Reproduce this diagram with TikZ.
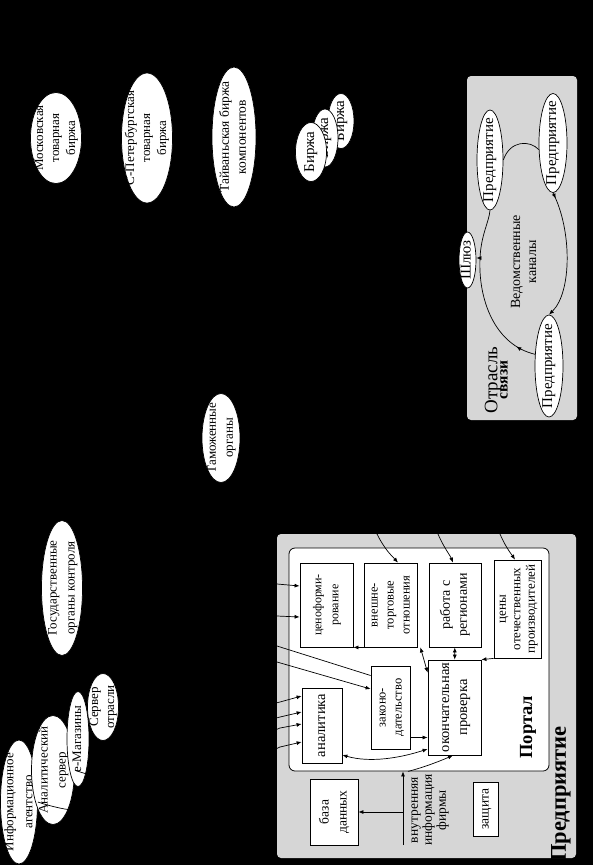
\documentclass[tikz,border=0pt]{standalone}
\usepackage{fontspec}
\setmainfont{Liberation Serif}
\usetikzlibrary{shapes.geometric,arrows.meta,calc,decorations.markings}
\newcommand{\rtx}[3]{\rotatebox{90}{\fontsize{#1}{#2}\selectfont\begin{tabular}{@{}c@{}}#3\end{tabular}}}
\definecolor{bgc}{RGB}{0,0,0}
\definecolor{panelgray}{RGB}{214,214,214}
\tikzset{
  ell/.style={ellipse, draw=black, fill=white, line width=0.7pt, inner sep=0pt},
  box/.style={rectangle, draw=black, fill=white, line width=0.8pt, inner sep=0pt},
  txt/.style={inner sep=0pt, text=black},
  panel/.style={fill=panelgray, rounded corners=4pt, inner sep=0pt},
  tip/.tip={Latex[length=5pt,width=4pt]},
  arr/.style={-tip, line width=0.7pt},
  darr/.style={tip-tip, line width=0.7pt},
  ln/.style={line width=0.7pt},
  ext/.style={-tip, line width=0.7pt, draw=bgc},
  extl/.style={line width=0.7pt, draw=bgc},
  cyc/.style={line width=0.7pt, postaction={decorate},
    decoration={markings, mark=at position #1 with {\arrow{tip}}}},
}
\begin{document}
\begin{tikzpicture}[x=1pt,y=-1pt]
\useasboundingbox (0,0) rectangle (593,865);
\fill[bgc] (0,0) rectangle (593,865);

% ---------- exchanges (top) ----------
\node[ell, minimum width=51, minimum height=91] (mosk) at (56,138) {};
\node[txt] (moskT) at (mosk) {\rtx{13}{16}{Московская\\товарная\\биржа}};
\node[ell, minimum width=51, minimum height=130] (spb) at (147,138) {};
\node[txt] (spbT) at (spb) {\rtx{13}{16}{С-Петербургская\\товарная\\биржа}};
\node[ell, minimum width=44, minimum height=140] (taiw) at (234,137) {};
\node[txt] (taiwT) at (taiw) {\rtx{13.5}{17}{Тайваньская биржа\\компонентов}};
\node[ell, minimum width=26, minimum height=55] (b3) at (341,121) {};
\node[txt] (b3T) at (b3) {\rtx{15}{16}{Биржа}};
\node[ell, minimum width=26, minimum height=58] (b2) at (325,138) {};
\node[txt] (b2T) at (b2) {\rtx{15}{16}{Биржа}};
\node[ell, minimum width=31, minimum height=59] (b1) at (311,152) {};
\node[txt] (b1T) at (b1) {\rtx{15}{16}{Биржа}};

% ---------- customs, state ----------
\node[ell, minimum width=38, minimum height=89] (tam) at (221,438) {};
\node[txt] (tamT) at (tam) {\rtx{13}{17}{Таможенные\\органы}};
\node[ell, minimum width=41, minimum height=135] (gos) at (62,588) {};
\node[txt] (gosT) at (gos) {\rtx{13}{18}{Государственные\\органы контроля}};

% ---------- info sources (bottom left) ----------
\node[ell, minimum width=37, minimum height=124] (info) at (19,802) {};
\node[txt] (infoT) at (info) {\rtx{13}{19}{Информационное\\агентство}};
\node[ell, minimum width=43, minimum height=109] (ansrv) at (53,770) {};
\node[txt] (ansrvT) at (ansrv) {\rtx{13}{18}{Аналитический\\сервер}};
\node[ell, minimum width=22, minimum height=95] (emag) at (78,739) {};
\node[txt] (emagT) at (emag) {\rtx{13}{16}{е-Магазины}};
\node[ell, minimum width=31, minimum height=67] (srv) at (103,707) {};
\node[txt] (srvT) at (srv) {\rtx{13}{16}{Сервер\\отрасли}};

% ---------- Отрасль связи panel ----------
\node[panel, minimum width=110, minimum height=344] (otr) at (522,248) {};
\node[ell, minimum width=26, minimum height=100] (p1) at (490,160) {};
\node[txt] (p1T) at (p1) {\rtx{15}{16}{Предприятие}};
\node[ell, minimum width=28, minimum height=99] (p2) at (553,143) {};
\node[txt] (p2T) at (p2) {\rtx{15}{16}{Предприятие}};
\node[ell, minimum width=28, minimum height=102] (p3) at (549,366) {};
\node[txt] (p3T) at (p3) {\rtx{15}{16}{Предприятие}};
\node[ell, minimum width=17, minimum height=56] (shl) at (467.5,260) {};
\node[txt] (shlT) at (shl) {\rtx{15}{16}{Шлюз}};
\node[txt] (vedT) at (525,262) {\rtx{14}{16}{Ведомственные\\каналы}};
\node[txt] (otrT) at (498,380) {\rotatebox{90}{\begin{tabular}{@{}c@{}}\fontsize{19}{20}\selectfont Отрасль\\[-2pt]\fontsize{15.5}{17}\selectfont\bfseries связи\end{tabular}}};

\draw[cyc=0.12] (p3.140) .. controls (495,345) and (478,300) .. (480,258) coordinate (lc)
  .. controls (481,235) and (489,222) .. (p1.south);
\draw[arr] (lc) -- (lc -| shl.east);
\draw[cyc=0.05, arr] (p2.south) .. controls (572,230) and (572,292) .. (p3.north);
\draw[ln] (p1.east) .. controls (510,140) and (530,140) .. (p2.205);

% ---------- Предприятие panel ----------
\node[panel, minimum width=299, minimum height=324] (pred) at (426.5,696) {};
\node[box, rounded corners=6pt, minimum width=260, minimum height=223] (portal) at (419,659.5) {};

\node[box, minimum width=53, minimum height=84] (ceno) at (326.5,605) {};
\node[txt] (cenoT) at (ceno) {\rtx{12}{17}{ценоформи-\\рование}};
\node[box, minimum width=53, minimum height=84] (vnesh) at (390.5,605) {};
\node[txt] (vneshT) at (vnesh) {\rtx{12.5}{16}{внешне-\\торговые\\отношения}};
\node[box, minimum width=52, minimum height=84] (rabota) at (455,605) {};
\node[txt] (rabotaT) at (rabota) {\rtx{14}{17}{работа с\\регионами}};
\node[box, minimum width=47, minimum height=98] (cena) at (517.5,609) {};
\node[txt] (cenaT) at (cena) {\rtx{13}{14.5}{цены\\отечественных\\производителей}};
\node[box, minimum width=53, minimum height=95] (okon) at (454.5,707.5) {};
\node[txt] (okonT) at (okon) {\rtx{14.5}{18}{окончательная\\проверка}};
\node[box, minimum width=39, minimum height=83] (zakon) at (390.5,707.5) {};
\node[txt] (zakonT) at (zakon) {\rtx{12.5}{16}{законо-\\дательство}};
\node[box, minimum width=40, minimum height=75] (anal) at (322,725.5) {};
\node[txt] (analT) at (anal) {\rtx{14.5}{16}{аналитика}};
\node[box, minimum width=48, minimum height=66] (baza) at (334,812) {};
\node[txt] (bazaT) at (baza) {\rtx{13.5}{18}{база\\данных}};
\node[box, minimum width=25, minimum height=54] (zash) at (485.5,809) {};
\node[txt] (zashT) at (zash) {\rtx{13.5}{16}{защита}};
\node[txt] (vinT) at (429,810) {\rtx{13.5}{14}{внутренняя\\информация\\фирмы}};
\node[txt] (portalT) at (528,727) {\rotatebox{90}{\fontsize{18.5}{20}\selectfont\bfseries Портал}};
\node[txt] (predT) at (561,794) {\rotatebox{90}{\fontsize{22.5}{24}\selectfont\bfseries Предприятие}};

% internal connectors
\draw[arr] (cena.south west) -- (okon.north east);
\draw[darr] (rabota) -- (okon);
\draw[darr] ([xshift=3pt]vnesh.south east) -- ([yshift=-13pt]okon.north west);
\draw[arr] (vnesh.south west) -- (ceno.south east);
\draw[arr] ([yshift=-30pt]zakon.east) -- ([yshift=-30pt]zakon.east -| okon.west);
\draw[darr] ([yshift=-29.5pt]anal.east) .. controls (370,763) and (400,758) .. ([yshift=-41.5pt]okon.west);
\coordinate (vin) at (403,845);
\draw[arr] (vin) -- (vin |- portal.south);
\draw[arr] (vin |- baza.east) -- (baza.east);
\draw[arr] ([xshift=5pt]vin |- portal.south) .. controls (425,767) and (440,761) .. ([xshift=-1.5pt]okon.south);

% external connectors (black on the black ground; visible only over the panel)
\draw[ext] (mosk.south) .. controls (40,450) and (200,584) .. (277,584) -- ([yshift=19pt]ceno.west);
\draw[ext] (spb.south) .. controls (150,450) and (200,615) .. (277,616) -- ([yshift=-12pt]ceno.west);
\draw[extl] (tam.south) .. controls (230,560) and (250,640) .. (277,646) -- ([yshift=32pt]zakon.west);
\draw[ext] (gos.east) .. controls (200,600) and (250,650) .. (277,662) -- ([yshift=18.5pt]zakon.west);
\draw[ext] (info.east) .. controls (150,840) and (250,760) .. (280,747) -- ([yshift=-16.5pt]anal.west);
\draw[ext] (ansrv.east) .. controls (150,800) and (250,740) .. (280,728) -- ([yshift=1.5pt]anal.west);
\draw[ext] (emag.east) .. controls (150,760) and (250,725) .. (280,717) -- ([yshift=13.5pt]anal.west);
\draw[ext] (srv.east) .. controls (150,720) and (250,710) .. (280,702) -- ([yshift=29.5pt]anal.west);
\draw[ext] (taiw.south) .. controls (260,350) and (360,500) .. (377,534) .. controls (385,550) and (392,556) .. ([xshift=7.5pt]vnesh.north);
\draw[ext] (b2.south) .. controls (360,330) and (425,500) .. (438,534) .. controls (444,548) and (450,555) .. ([xshift=-2pt]rabota.north);
\draw[ext] (b1.south) .. controls (330,300) and (480,480) .. (500,534) .. controls (506,548) and (512,555) .. ([xshift=-2.5pt]cena.north);
\end{tikzpicture}
\end{document}
